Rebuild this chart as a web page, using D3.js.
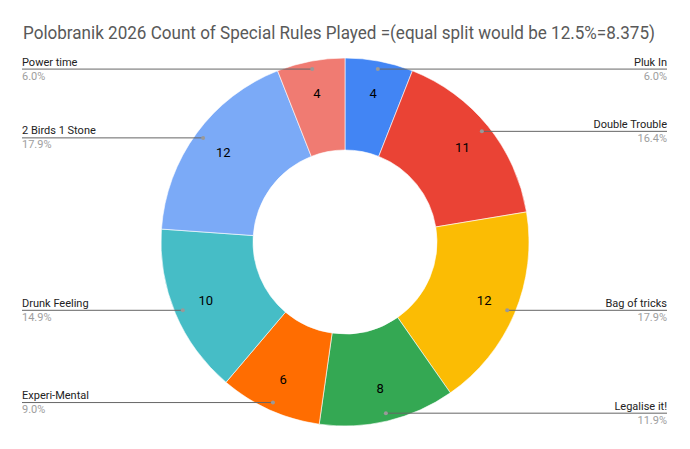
<!DOCTYPE html>
<html>
<head>
<meta charset="utf-8">
<script src="https://cdn.jsdelivr.net/npm/d3@7"></script>
<style>
  body { margin: 0; background: #fff; }
  text { font-family: Roboto, Arial, "Liberation Sans", sans-serif; }
</style>
</head>
<body>
<div id="chart"></div>
<script>
// data
var categories = ["Pluk In", "Double Trouble", "Bag of tricks", "Legalise it!", "Experi-Mental", "Drunk Feeling", "2 Birds 1 Stone", "Power time"];
var counts = [4, 11, 12, 8, 6, 10, 12, 4];
var colors = ["#4285f4", "#ea4335", "#fbbc04", "#34a853", "#ff6d01", "#46bdc6", "#7baaf7", "#f07b72"];
var title = "Polobranik 2026 Count of Special Rules Played =(equal split would be 12.5%=8.375)";

var w = 690, h = 449;
var cx = 345, cy = 242;
var outerR = 184, innerR = 92;
var leftX = 22, rightX = 667;

var total = d3.sum(counts);
var dataset = categories.map(function(c, i){
  return {name: c, value: counts[i], color: colors[i]};
});

var svg = d3.select("#chart").append("svg")
  .attr("width", w)
  .attr("height", h);

svg.append("rect").attr("width", w).attr("height", h).attr("fill", "#fff");

svg.append("text")
  .attr("x", 23)
  .attr("y", 39)
  .attr("font-size", 18)
  .attr("fill", "#595959")
  .attr("textLength", 632)
  .attr("lengthAdjust", "spacingAndGlyphs")
  .text(title);

var pie = d3.pie().sort(null).value(function(d){ return d.value; });
var arcs = pie(dataset);

var arc = d3.arc().innerRadius(innerR).outerRadius(outerR);
var labelArc = d3.arc().innerRadius(151).outerRadius(151);
var dotArc = d3.arc().innerRadius(176).outerRadius(176);

var g = svg.append("g").attr("transform", "translate(" + cx + "," + cy + ")");

g.selectAll("path.slice")
  .data(arcs)
  .enter()
  .append("path")
  .attr("class", "slice")
  .attr("d", arc)
  .attr("fill", function(d){ return d.data.color; })
  .attr("stroke", "#fff")
  .attr("stroke-width", 0.6);

g.selectAll("text.num")
  .data(arcs)
  .enter()
  .append("text")
  .attr("class", "num")
  .attr("x", function(d){ return labelArc.centroid(d)[0]; })
  .attr("y", function(d){ return labelArc.centroid(d)[1]; })
  .attr("dy", "0.35em")
  .attr("text-anchor", "middle")
  .attr("font-size", 13)
  .attr("fill", "#000")
  .text(function(d){ return d.data.value; });

// leader lines and labels
var isRight = function(d){ return (d.startAngle + d.endAngle) / 2 < Math.PI; };
var lbl = svg.append("g");

arcs.forEach(function(d){
  var p = dotArc.centroid(d);
  var px = cx + p[0], py = cy + p[1];
  var right = isRight(d);
  var edge = right ? rightX : leftX;

  lbl.append("line")
    .attr("x1", px).attr("y1", py)
    .attr("x2", edge).attr("y2", py)
    .attr("stroke", "#666")
    .attr("stroke-width", 1);

  lbl.append("circle")
    .attr("cx", px).attr("cy", py).attr("r", 2)
    .attr("fill", "#999");

  lbl.append("text")
    .attr("x", edge)
    .attr("y", py - 3.5)
    .attr("text-anchor", right ? "end" : "start")
    .attr("font-size", 11)
    .attr("fill", "#222")
    .text(d.data.name);

  lbl.append("text")
    .attr("x", edge)
    .attr("y", py + 10.5)
    .attr("text-anchor", right ? "end" : "start")
    .attr("font-size", 11)
    .attr("fill", "#9e9e9e")
    .text((d.data.value / total * 100).toFixed(1) + "%");
});
</script>
</body>
</html>
